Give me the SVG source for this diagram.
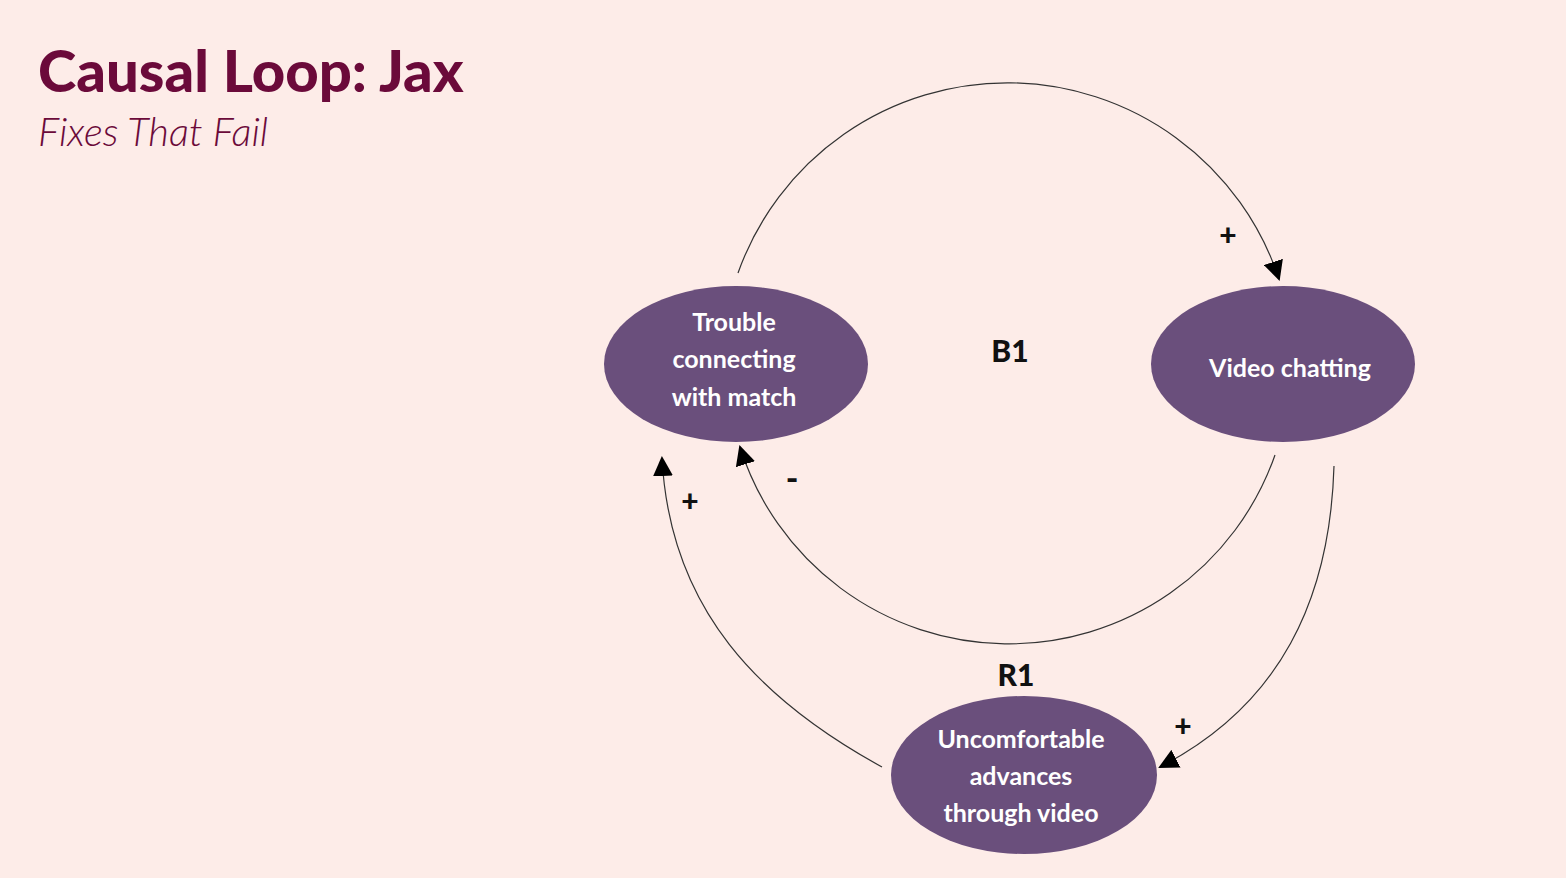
<svg xmlns="http://www.w3.org/2000/svg" width="1566" height="878" viewBox="0 0 1566 878">
<style>
.node{fill:#6a4f7c}
.nt{fill:#fff;font-family:Lato,"Open Sans",sans-serif;font-weight:bold;font-size:25px;text-anchor:middle}
.c{fill:none;stroke:#333;stroke-width:1.2;marker-end:url(#ah)}
.lab{font-family:Lato,"Open Sans",sans-serif;font-weight:900;fill:#111;text-anchor:middle}
</style>
<defs><marker id="ah" viewBox="0 0 10 10" refX="9" refY="5" markerWidth="20" markerHeight="20" markerUnits="userSpaceOnUse" orient="auto"><path d="M0,0L10,5L0,10z" fill="#000"/></marker></defs>
<rect width="1566" height="878" fill="#fdece8"/>
<text x="38" y="92" font-family="Lato,sans-serif" font-weight="900" font-size="58" fill="#6b0a3a">Causal Loop: Jax</text>
<text x="38" y="146" font-family="Lato,sans-serif" font-style="italic" font-weight="300" font-size="40" fill="#6b0a3a">Fixes That Fail</text>
<g id="connectors">
<path class="c" d="M738,273 A286,286 0 0 1 1279,279"/>
<path class="c" d="M1275,455 A282,282 0 0 1 740,447"/>
<path class="c" d="M882,767 C760,700 670,610 662,458"/>
<path class="c" d="M1334,466 C1330,600 1280,705 1160,767"/>
</g>
<g id="labels">
<text class="lab" x="1228" y="246" font-size="30">+</text>
<text class="lab" x="690" y="512" font-size="30">+</text>
<text class="lab" x="1183" y="737" font-size="30">+</text>
<text class="lab" x="792" y="490" font-size="34">-</text>
<text class="lab" x="1010" y="362" font-size="30">B1</text>
<text class="lab" x="1016" y="686" font-size="30">R1</text>
</g>
<g id="n1"><ellipse class="node" cx="736" cy="364" rx="132" ry="78"/>
<text class="nt" x="734" y="331">Trouble</text><text class="nt" x="734" y="368">connecting</text><text class="nt" x="734" y="406">with match</text></g>
<g id="n2"><ellipse class="node" cx="1283" cy="364" rx="132" ry="78"/>
<text class="nt" x="1290" y="377">Video chatting</text></g>
<g id="n3"><ellipse class="node" cx="1024" cy="775" rx="133" ry="79"/>
<text class="nt" x="1021" y="748">Uncomfortable</text><text class="nt" x="1021" y="785">advances</text><text class="nt" x="1021" y="822">through video</text></g>
</svg>
